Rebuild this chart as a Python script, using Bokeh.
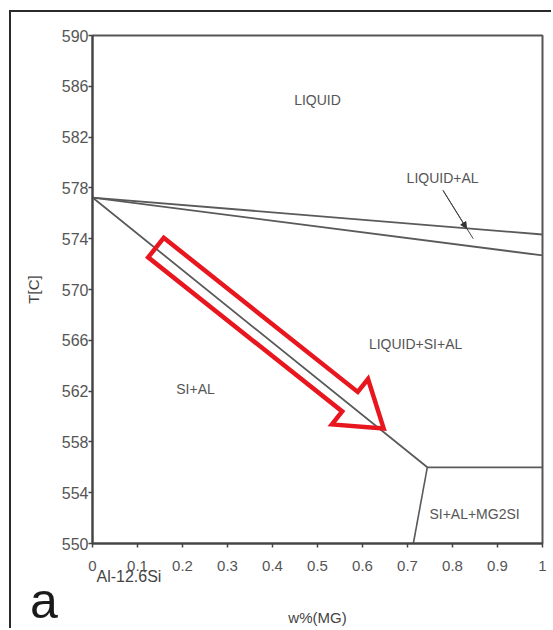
import math
from bokeh.plotting import figure
from bokeh.models import FixedTicker, Arrow, NormalHead, LinearAxis
from bokeh.embed import file_html
from bokeh.resources import INLINE
from bokeh.core.properties import value

# ---------------- data ----------------
X_TICKS = [0, 0.1, 0.2, 0.3, 0.4, 0.5, 0.6, 0.7, 0.8, 0.9, 1]
X_TICK_LABELS = ["0", "0.1", "0.2", "0.3", "0.4", "0.5", "0.6", "0.7", "0.8", "0.9", "1"]
Y_TICKS = [550, 554, 558, 562, 566, 570, 574, 578, 582, 586, 590]

LIQ_X = [0, 1]
LIQ_T = [577.24, 574.33]
LAL_X = [0, 1]
LAL_T = [577.24, 572.68]
VAL_X = [0, 0.744, 1]
VAL_T = [577.24, 556.0, 556.0]
MG_X = [0.744, 0.713]
MG_T = [556.0, 550.0]

REGION_NAMES = ["LIQUID", "LIQUID+AL", "LIQUID+SI+AL", "SI+AL", "SI+AL+MG2SI"]
REGION_X = [0.50, 0.778, 0.718, 0.229, 0.849]
REGION_T = [584.9, 578.8, 565.7, 562.2, 552.3]

LEADER_X = [0.779, 0.846]
LEADER_T = [577.8, 574.0]
LEADER_HEAD = [0.831, 574.82]

ARROW_X = [0.141, 0.647]   # tail, tip
ARROW_T = [573.3, 559.06]

ALLOY_LABEL = "Al-12.6Si"
ALLOY_LABEL_X = 0.081
PANEL_LABEL = "a"

X_RANGE = (0, 1)
Y_RANGE = (550, 590)

# ---------------- layout ----------------
OX, OY = 11, 12          # canvas origin on the page (after scan-frame border)
W, H = 553 - OX, 630 - OY
ML, MR, MT, MB = 92 - OX, 11, 35 - OY, 87
FW = W - ML - MR
FH = H - MT - MB

p = figure(width=W, height=H, x_range=X_RANGE, y_range=Y_RANGE,
           output_backend="svg", toolbar_location=None,
           min_border_left=ML, min_border_right=MR,
           min_border_top=MT, min_border_bottom=MB)
p.styles = {"margin-left": "9px", "margin-top": "10px",
            "border-left": "2px solid #2a2a2a", "border-top": "2px solid #2a2a2a"}
p.grid.visible = False
p.outline_line_color = "#555555"
p.outline_line_width = 2
p.background_fill_color = "white"
p.border_fill_color = "white"

FONT = "Liberation Sans"
for ax in (p.xaxis[0], p.yaxis[0]):
    ax.axis_line_color = "#444444"
    ax.axis_line_width = 2
    ax.major_tick_line_color = "#444444"
    ax.major_tick_line_width = 1.5
    ax.major_tick_in = 0
    ax.major_tick_out = 4
    ax.minor_tick_line_color = None
    ax.major_label_text_font = FONT
    ax.major_label_text_color = "#555555"
    ax.axis_label_text_font = FONT
    ax.axis_label_text_font_size = "15px"
    ax.axis_label_text_font_style = "normal"
    ax.axis_label_text_color = "#444444"

p.xaxis.ticker = FixedTicker(ticks=X_TICKS)
p.xaxis.major_label_overrides = {t: l for t, l in zip(X_TICKS, X_TICK_LABELS)}
p.xaxis.major_label_standoff = 13
p.xaxis.major_label_text_font_size = "15px"

p.yaxis.ticker = FixedTicker(ticks=Y_TICKS)
p.yaxis.major_label_standoff = 0
p.yaxis.major_label_text_font_size = "16px"
p.yaxis.axis_label = "T[C]"
p.yaxis.axis_label_standoff = 17

# label-only axes below: alloy name + axis title, then the panel letter
ax2 = LinearAxis(ticker=FixedTicker(ticks=[ALLOY_LABEL_X]),
                 major_label_overrides={ALLOY_LABEL_X: ALLOY_LABEL},
                 axis_line_color=None, major_tick_line_color=None,
                 minor_tick_line_color=None, major_tick_in=0, major_tick_out=0,
                 major_label_standoff=-6,
                 major_label_text_font=FONT, major_label_text_font_size="16px",
                 major_label_text_color="#444444",
                 axis_label="w%(MG)", axis_label_standoff=21,
                 axis_label_text_font=FONT, axis_label_text_font_size="15px",
                 axis_label_text_font_style="normal", axis_label_text_color="#444444")
p.add_layout(ax2, "below")

ax3 = LinearAxis(ticker=FixedTicker(ticks=[X_RANGE[0]]),
                 major_label_overrides={X_RANGE[0]: PANEL_LABEL + "\u00a0" * 7},
                 axis_line_color=None, major_tick_line_color=None,
                 minor_tick_line_color=None, major_tick_in=0, major_tick_out=0,
                 major_label_standoff=-56,
                 major_label_text_font=FONT, major_label_text_font_size="50px",
                 major_label_text_color="#1a1a1a",
                 axis_label="\u00a0", axis_label_standoff=-5,
                 axis_label_text_font_size="1px")
p.add_layout(ax3, "below")

LINE_C = "#5a5a5a"
p.line(LIQ_X, LIQ_T, line_color=LINE_C, line_width=1.8)
p.line(LAL_X, LAL_T, line_color=LINE_C, line_width=1.8)
p.line(VAL_X, VAL_T, line_color=LINE_C, line_width=1.8)
p.line(MG_X, MG_T, line_color=LINE_C, line_width=1.6)

# leader line for LIQUID+AL
p.line(LEADER_X, LEADER_T, line_color="#444444", line_width=1)
p.add_layout(Arrow(end=NormalHead(size=6, fill_color="#333333", line_color="#333333"),
                   x_start=LEADER_X[0], y_start=LEADER_T[0],
                   x_end=LEADER_HEAD[0], y_end=LEADER_HEAD[1],
                   line_color="#444444", line_width=1))

p.text(x=REGION_X, y=REGION_T, text=REGION_NAMES, text_align="center",
       text_baseline="middle", text_font=value(FONT), text_font_size="14px",
       text_color="#555555")

# hollow red block arrow, built in pixel space from tail/tip data points
sx = FW / (X_RANGE[1] - X_RANGE[0])
sy = FH / (Y_RANGE[1] - Y_RANGE[0])
tx, ty = ARROW_X[0] * sx, ARROW_T[0] * sy
hx, hy = ARROW_X[1] * sx, ARROW_T[1] * sy
L = math.hypot(hx - tx, hy - ty)
dx, dy = (hx - tx) / L, (hy - ty) / L
nx, ny = -dy, dx
w, hw, hl = 12.5, 29, 43
kx, ky = hx - dx * hl, hy - dy * hl
pts = [(tx + nx * w, ty + ny * w), (kx + nx * w, ky + ny * w), (kx + nx * hw, ky + ny * hw),
       (hx, hy), (kx - nx * hw, ky - ny * hw), (kx - nx * w, ky - ny * w),
       (tx - nx * w, ty - ny * w)]
p.patch([q[0] / sx for q in pts], [q[1] / sy for q in pts], fill_alpha=0,
        line_color="#e8161e", line_width=4.5, line_join="miter")

open("out.html", "w").write(file_html(p, INLINE))
